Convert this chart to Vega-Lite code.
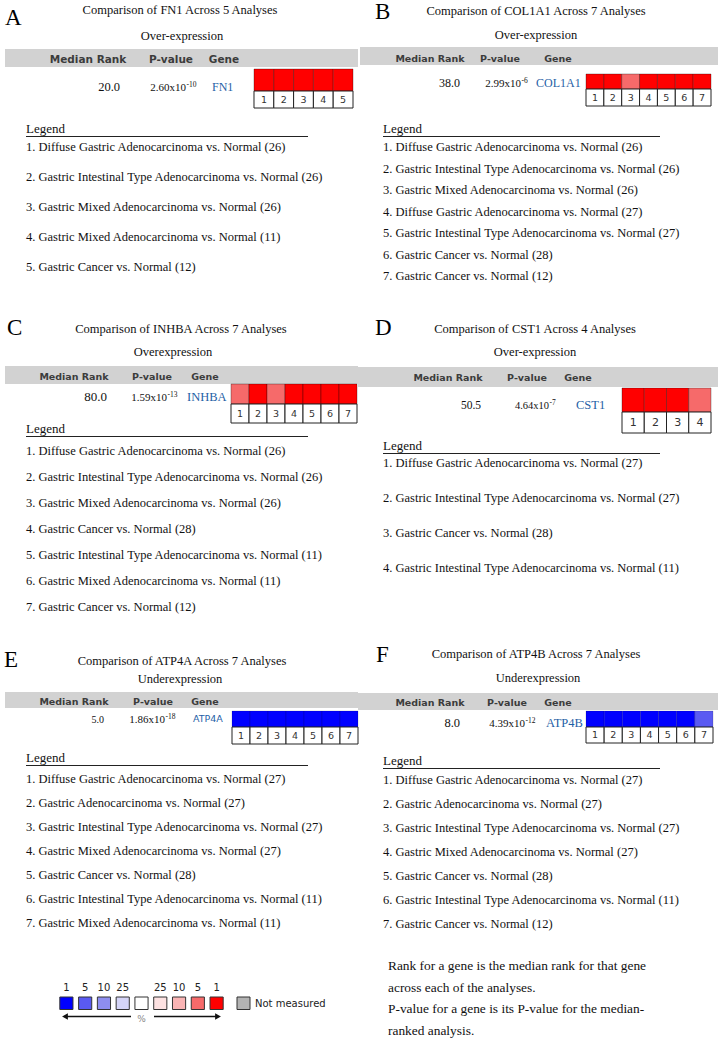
{
"$schema":"https://vega.github.io/schema/vega-lite/v6.json",
"padding":0,
"background":"#ffffff",
"spacing":0,
"config":{
 "view":{"stroke":null},
 "axis":{"disable":true},
 "legend":{"disable":true},
 "concat":{"spacing":0},
 "style":{
  "letter":{"font":"Liberation Serif","fontSize":23,"color":"#000000","align":"left","baseline":"alphabetic"},
  "ttl":{"font":"Liberation Serif","fontSize":12.5,"color":"#111111","align":"center","baseline":"alphabetic"},
  "hdr":{"font":"DejaVu Sans","fontSize":9.5,"fontWeight":"bold","color":"#3c3c3c","align":"center","baseline":"alphabetic"},
  "val":{"font":"Liberation Serif","fontSize":12.5,"color":"#111111","baseline":"alphabetic"},
  "pb":{"font":"Liberation Serif","fontSize":11,"color":"#111111","align":"right","baseline":"alphabetic"},
  "pe":{"font":"Liberation Serif","fontSize":7.5,"color":"#111111","align":"left","baseline":"alphabetic"},
  "gene":{"font":"Liberation Serif","fontSize":12.5,"color":"#1f5fa6","align":"left","baseline":"alphabetic"},
  "num":{"font":"DejaVu Sans","fontSize":9.5,"color":"#333333","align":"center","baseline":"middle"},
  "item":{"font":"Liberation Serif","fontSize":12.5,"color":"#111111","align":"left","baseline":"middle"}
 }
},
"datasets":{
 "panels":[
  {"panel":"A","title":"Comparison of FN1 Across 5 Analyses","direction":"Over-expression","rank":"20.0","pbase":"2.60x10","pexp":"-10","gene":"FN1"},
  {"panel":"B","title":"Comparison of COL1A1 Across 7 Analyses","direction":"Over-expression","rank":"38.0","pbase":"2.99x10","pexp":"-6","gene":"COL1A1"},
  {"panel":"C","title":"Comparison of INHBA Across 7 Analyses","direction":"Overexpression","rank":"80.0","pbase":"1.59x10","pexp":"-13","gene":"INHBA"},
  {"panel":"D","title":"Comparison of CST1 Across 4 Analyses","direction":"Over-expression","rank":"50.5","pbase":"4.64x10","pexp":"-7","gene":"CST1"},
  {"panel":"E","title":"Comparison of ATP4A Across 7 Analyses","direction":"Underexpression","rank":"5.0","pbase":"1.86x10","pexp":"-18","gene":"ATP4A"},
  {"panel":"F","title":"Comparison of ATP4B Across 7 Analyses","direction":"Underexpression","rank":"8.0","pbase":"4.39x10","pexp":"-12","gene":"ATP4B"}
 ],
 "cells":[
  {"panel":"A","analysis":1,"level":"over 1%"},{"panel":"A","analysis":2,"level":"over 1%"},{"panel":"A","analysis":3,"level":"over 1%"},{"panel":"A","analysis":4,"level":"over 1%"},{"panel":"A","analysis":5,"level":"over 1%"},
  {"panel":"B","analysis":1,"level":"over 1%"},{"panel":"B","analysis":2,"level":"over 1%"},{"panel":"B","analysis":3,"level":"over 5%"},{"panel":"B","analysis":4,"level":"over 1%"},{"panel":"B","analysis":5,"level":"over 1%"},{"panel":"B","analysis":6,"level":"over 1%"},{"panel":"B","analysis":7,"level":"over 1%"},
  {"panel":"C","analysis":1,"level":"over 5%"},{"panel":"C","analysis":2,"level":"over 1%"},{"panel":"C","analysis":3,"level":"over 5%"},{"panel":"C","analysis":4,"level":"over 1%"},{"panel":"C","analysis":5,"level":"over 1%"},{"panel":"C","analysis":6,"level":"over 1%"},{"panel":"C","analysis":7,"level":"over 1%"},
  {"panel":"D","analysis":1,"level":"over 1%"},{"panel":"D","analysis":2,"level":"over 1%"},{"panel":"D","analysis":3,"level":"over 1%"},{"panel":"D","analysis":4,"level":"over 5%"},
  {"panel":"E","analysis":1,"level":"under 1%"},{"panel":"E","analysis":2,"level":"under 1%"},{"panel":"E","analysis":3,"level":"under 1%"},{"panel":"E","analysis":4,"level":"under 1%"},{"panel":"E","analysis":5,"level":"under 1%"},{"panel":"E","analysis":6,"level":"under 1%"},{"panel":"E","analysis":7,"level":"under 1%"},
  {"panel":"F","analysis":1,"level":"under 1%"},{"panel":"F","analysis":2,"level":"under 1%"},{"panel":"F","analysis":3,"level":"under 1%"},{"panel":"F","analysis":4,"level":"under 1%"},{"panel":"F","analysis":5,"level":"under 1%"},{"panel":"F","analysis":6,"level":"under 1%"},{"panel":"F","analysis":7,"level":"under 5%"}
 ],
 "items":[
  {"panel":"A","n":1,"label":"1. Diffuse Gastric Adenocarcinoma vs. Normal (26)"},
  {"panel":"A","n":2,"label":"2. Gastric Intestinal Type Adenocarcinoma vs. Normal (26)"},
  {"panel":"A","n":3,"label":"3. Gastric Mixed Adenocarcinoma vs. Normal (26)"},
  {"panel":"A","n":4,"label":"4. Gastric Mixed Adenocarcinoma vs. Normal (11)"},
  {"panel":"A","n":5,"label":"5. Gastric Cancer vs. Normal (12)"},
  {"panel":"B","n":1,"label":"1. Diffuse Gastric Adenocarcinoma vs. Normal (26)"},
  {"panel":"B","n":2,"label":"2. Gastric Intestinal Type Adenocarcinoma vs. Normal (26)"},
  {"panel":"B","n":3,"label":"3. Gastric Mixed Adenocarcinoma vs. Normal (26)"},
  {"panel":"B","n":4,"label":"4. Diffuse Gastric Adenocarcinoma vs. Normal (27)"},
  {"panel":"B","n":5,"label":"5. Gastric Intestinal Type Adenocarcinoma vs. Normal (27)"},
  {"panel":"B","n":6,"label":"6. Gastric Cancer vs. Normal (28)"},
  {"panel":"B","n":7,"label":"7. Gastric Cancer vs. Normal (12)"},
  {"panel":"C","n":1,"label":"1. Diffuse Gastric Adenocarcinoma vs. Normal (26)"},
  {"panel":"C","n":2,"label":"2. Gastric Intestinal Type Adenocarcinoma vs. Normal (26)"},
  {"panel":"C","n":3,"label":"3. Gastric Mixed Adenocarcinoma vs. Normal (26)"},
  {"panel":"C","n":4,"label":"4. Gastric Cancer vs. Normal (28)"},
  {"panel":"C","n":5,"label":"5. Gastric Intestinal Type Adenocarcinoma vs. Normal (11)"},
  {"panel":"C","n":6,"label":"6. Gastric Mixed Adenocarcinoma vs. Normal (11)"},
  {"panel":"C","n":7,"label":"7. Gastric Cancer vs. Normal (12)"},
  {"panel":"D","n":1,"label":"1. Diffuse Gastric Adenocarcinoma vs. Normal (27)"},
  {"panel":"D","n":2,"label":"2. Gastric Intestinal Type Adenocarcinoma vs. Normal (27)"},
  {"panel":"D","n":3,"label":"3. Gastric Cancer vs. Normal (28)"},
  {"panel":"D","n":4,"label":"4. Gastric Intestinal Type Adenocarcinoma vs. Normal (11)"},
  {"panel":"E","n":1,"label":"1. Diffuse Gastric Adenocarcinoma vs. Normal (27)"},
  {"panel":"E","n":2,"label":"2. Gastric Adenocarcinoma vs. Normal (27)"},
  {"panel":"E","n":3,"label":"3. Gastric Intestinal Type Adenocarcinoma vs. Normal (27)"},
  {"panel":"E","n":4,"label":"4. Gastric Mixed Adenocarcinoma vs. Normal (27)"},
  {"panel":"E","n":5,"label":"5. Gastric Cancer vs. Normal (28)"},
  {"panel":"E","n":6,"label":"6. Gastric Intestinal Type Adenocarcinoma vs. Normal (11)"},
  {"panel":"E","n":7,"label":"7. Gastric Mixed Adenocarcinoma vs. Normal (11)"},
  {"panel":"F","n":1,"label":"1. Diffuse Gastric Adenocarcinoma vs. Normal (27)"},
  {"panel":"F","n":2,"label":"2. Gastric Adenocarcinoma vs. Normal (27)"},
  {"panel":"F","n":3,"label":"3. Gastric Intestinal Type Adenocarcinoma vs. Normal (27)"},
  {"panel":"F","n":4,"label":"4. Gastric Mixed Adenocarcinoma vs. Normal (27)"},
  {"panel":"F","n":5,"label":"5. Gastric Cancer vs. Normal (28)"},
  {"panel":"F","n":6,"label":"6. Gastric Intestinal Type Adenocarcinoma vs. Normal (11)"},
  {"panel":"F","n":7,"label":"7. Gastric Cancer vs. Normal (12)"}
 ],
 "key":[
  {"level":"under 1%","tick":"1"},{"level":"under 5%","tick":"5"},{"level":"under 10%","tick":"10"},{"level":"under 25%","tick":"25"},{"level":"neutral","tick":""},{"level":"over 25%","tick":"25"},{"level":"over 10%","tick":"10"},{"level":"over 5%","tick":"5"},{"level":"over 1%","tick":"1"},{"level":"not measured","tick":"Not measured"}
 ],
 "notes":[
  {"line":1,"text":"Rank for a gene is the median rank for that gene"},
  {"line":2,"text":"across each of the analyses."},
  {"line":3,"text":"P-value for a gene is its P-value for the median-"},
  {"line":4,"text":"ranked analysis."}
 ]
},
"vconcat":[
 {"hconcat":[
  {"width":358,"height":310,"data":{"name":"panels"},"transform":[{"filter":"datum.panel === 'A'"}],"resolve":{"scale":{"x":"independent","y":"independent"}},"layer":[
   {"mark":{"type":"rect","color":"#d2d2d2"},"encoding":{"x":{"field":"panel","type":"nominal","scale":{"range":[5,358],"padding":0}},"y":{"field":"panel","type":"nominal","scale":{"range":[49,67],"padding":0}}}},
   {"mark":{"type":"text","style":"letter"},"encoding":{"text":{"field":"panel"},"x":{"field":"panel","type":"nominal","scale":{"range":[5,5]}},"y":{"field":"panel","type":"nominal","scale":{"range":[25,25]}}}},
   {"mark":{"type":"text","style":"ttl"},"encoding":{"text":{"field":"title"},"x":{"field":"panel","type":"nominal","scale":{"range":[180,180]}},"y":{"field":"panel","type":"nominal","scale":{"range":[14,14]}}}},
   {"mark":{"type":"text","style":"ttl"},"encoding":{"text":{"field":"direction"},"x":{"field":"panel","type":"nominal","scale":{"range":[182,182]}},"y":{"field":"panel","type":"nominal","scale":{"range":[40,40]}}}},
   {"mark":{"type":"text","style":"hdr","fontSize":10.5},"encoding":{"text":{"value":"Median Rank"},"x":{"field":"panel","type":"nominal","scale":{"range":[88,88]}},"y":{"field":"panel","type":"nominal","scale":{"range":[63,63]}}}},
   {"mark":{"type":"text","style":"hdr","fontSize":10.5},"encoding":{"text":{"value":"P-value"},"x":{"field":"panel","type":"nominal","scale":{"range":[171,171]}},"y":{"field":"panel","type":"nominal","scale":{"range":[63,63]}}}},
   {"mark":{"type":"text","style":"hdr","fontSize":10.5},"encoding":{"text":{"value":"Gene"},"x":{"field":"panel","type":"nominal","scale":{"range":[224,224]}},"y":{"field":"panel","type":"nominal","scale":{"range":[63,63]}}}},
   {"mark":{"type":"text","style":"val","align":"right"},"encoding":{"text":{"field":"rank"},"x":{"field":"panel","type":"nominal","scale":{"range":[120,120]}},"y":{"field":"panel","type":"nominal","scale":{"range":[91,91]}}}},
   {"mark":{"type":"text","style":"pb"},"encoding":{"text":{"field":"pbase"},"x":{"field":"panel","type":"nominal","scale":{"range":[186,186]}},"y":{"field":"panel","type":"nominal","scale":{"range":[91,91]}}}},
   {"mark":{"type":"text","style":"pe"},"encoding":{"text":{"field":"pexp"},"x":{"field":"panel","type":"nominal","scale":{"range":[186.5,186.5]}},"y":{"field":"panel","type":"nominal","scale":{"range":[86.5,86.5]}}}},
   {"mark":{"type":"text","style":"gene","fontSize":12},"encoding":{"text":{"field":"gene"},"x":{"field":"panel","type":"nominal","scale":{"range":[212,212]}},"y":{"field":"panel","type":"nominal","scale":{"range":[91,91]}}}},
   {"data":{"name":"cells"},"transform":[{"filter":"datum.panel === 'A'"}],"mark":{"type":"rect","stroke":"#000000","strokeOpacity":0.3,"strokeWidth":1},"encoding":{"x":{"field":"analysis","type":"ordinal","scale":{"range":[254,353],"padding":0}},"y":{"field":"panel","type":"nominal","scale":{"range":[69,91],"padding":0}},"color":{"field":"level","type":"nominal","scale":{"domain":["under 1%","under 5%","under 10%","under 25%","neutral","over 25%","over 10%","over 5%","over 1%","not measured"],"range":["#0000ff","#5a5af2","#8e8ef0","#d4d4f7","#ffffff","#fde2e2","#fab4b4","#f66a6a","#ff0000","#b3b3b3"]}}}},
   {"data":{"name":"cells"},"transform":[{"filter":"datum.panel === 'A'"}],"mark":{"type":"rect","fill":"#ffffff","stroke":"#222222","strokeWidth":1},"encoding":{"x":{"field":"analysis","type":"ordinal","scale":{"range":[254,353],"padding":0}},"y":{"field":"panel","type":"nominal","scale":{"range":[91,108],"padding":0}}}},
   {"data":{"name":"cells"},"transform":[{"filter":"datum.panel === 'A'"}],"mark":{"type":"text","style":"num"},"encoding":{"text":{"field":"analysis"},"x":{"field":"analysis","type":"ordinal","scale":{"range":[254,353]}},"y":{"field":"panel","type":"nominal","scale":{"range":[100,100]}}}},
   {"mark":{"type":"text","style":"item","baseline":"alphabetic","fontSize":13},"encoding":{"text":{"value":"Legend"},"x":{"field":"panel","type":"nominal","scale":{"range":[26,26]}},"y":{"field":"panel","type":"nominal","scale":{"range":[133,133]}}}},
   {"mark":{"type":"rect","color":"#222222"},"encoding":{"x":{"field":"panel","type":"nominal","scale":{"range":[26,308],"padding":0}},"y":{"field":"panel","type":"nominal","scale":{"range":[136,137],"padding":0}}}},
   {"data":{"name":"items"},"transform":[{"filter":"datum.panel === 'A'"}],"mark":{"type":"text","style":"item"},"encoding":{"text":{"field":"label"},"x":{"field":"panel","type":"nominal","scale":{"range":[26,26]}},"y":{"field":"n","type":"ordinal","scale":{"range":[132,282]}}}}
  ]},
  {"width":360,"height":310,"data":{"name":"panels"},"transform":[{"filter":"datum.panel === 'B'"}],"resolve":{"scale":{"x":"independent","y":"independent"}},"layer":[
   {"mark":{"type":"rect","color":"#d2d2d2"},"encoding":{"x":{"field":"panel","type":"nominal","scale":{"range":[2,360],"padding":0}},"y":{"field":"panel","type":"nominal","scale":{"range":[47,65],"padding":0}}}},
   {"mark":{"type":"text","style":"letter"},"encoding":{"text":{"field":"panel"},"x":{"field":"panel","type":"nominal","scale":{"range":[17,17]}},"y":{"field":"panel","type":"nominal","scale":{"range":[19,19]}}}},
   {"mark":{"type":"text","style":"ttl"},"encoding":{"text":{"field":"title"},"x":{"field":"panel","type":"nominal","scale":{"range":[178,178]}},"y":{"field":"panel","type":"nominal","scale":{"range":[15,15]}}}},
   {"mark":{"type":"text","style":"ttl"},"encoding":{"text":{"field":"direction"},"x":{"field":"panel","type":"nominal","scale":{"range":[178,178]}},"y":{"field":"panel","type":"nominal","scale":{"range":[39,39]}}}},
   {"mark":{"type":"text","style":"hdr"},"encoding":{"text":{"value":"Median Rank"},"x":{"field":"panel","type":"nominal","scale":{"range":[72,72]}},"y":{"field":"panel","type":"nominal","scale":{"range":[62,62]}}}},
   {"mark":{"type":"text","style":"hdr"},"encoding":{"text":{"value":"P-value"},"x":{"field":"panel","type":"nominal","scale":{"range":[142,142]}},"y":{"field":"panel","type":"nominal","scale":{"range":[62,62]}}}},
   {"mark":{"type":"text","style":"hdr"},"encoding":{"text":{"value":"Gene"},"x":{"field":"panel","type":"nominal","scale":{"range":[200,200]}},"y":{"field":"panel","type":"nominal","scale":{"range":[62,62]}}}},
   {"mark":{"type":"text","style":"val","align":"right","fontSize":12},"encoding":{"text":{"field":"rank"},"x":{"field":"panel","type":"nominal","scale":{"range":[102,102]}},"y":{"field":"panel","type":"nominal","scale":{"range":[87,87]}}}},
   {"mark":{"type":"text","style":"pb"},"encoding":{"text":{"field":"pbase"},"x":{"field":"panel","type":"nominal","scale":{"range":[163,163]}},"y":{"field":"panel","type":"nominal","scale":{"range":[87,87]}}}},
   {"mark":{"type":"text","style":"pe"},"encoding":{"text":{"field":"pexp"},"x":{"field":"panel","type":"nominal","scale":{"range":[163.5,163.5]}},"y":{"field":"panel","type":"nominal","scale":{"range":[82.5,82.5]}}}},
   {"mark":{"type":"text","style":"gene","fontSize":12},"encoding":{"text":{"field":"gene"},"x":{"field":"panel","type":"nominal","scale":{"range":[178,178]}},"y":{"field":"panel","type":"nominal","scale":{"range":[87,87]}}}},
   {"data":{"name":"cells"},"transform":[{"filter":"datum.panel === 'B'"}],"mark":{"type":"rect","stroke":"#000000","strokeOpacity":0.3,"strokeWidth":1},"encoding":{"x":{"field":"analysis","type":"ordinal","scale":{"range":[228,353],"padding":0}},"y":{"field":"panel","type":"nominal","scale":{"range":[74,89],"padding":0}},"color":{"field":"level","type":"nominal","scale":{"domain":["under 1%","under 5%","under 10%","under 25%","neutral","over 25%","over 10%","over 5%","over 1%","not measured"],"range":["#0000ff","#5a5af2","#8e8ef0","#d4d4f7","#ffffff","#fde2e2","#fab4b4","#f66a6a","#ff0000","#b3b3b3"]}}}},
   {"data":{"name":"cells"},"transform":[{"filter":"datum.panel === 'B'"}],"mark":{"type":"rect","fill":"#ffffff","stroke":"#222222","strokeWidth":1},"encoding":{"x":{"field":"analysis","type":"ordinal","scale":{"range":[228,353],"padding":0}},"y":{"field":"panel","type":"nominal","scale":{"range":[89,106],"padding":0}}}},
   {"data":{"name":"cells"},"transform":[{"filter":"datum.panel === 'B'"}],"mark":{"type":"text","style":"num"},"encoding":{"text":{"field":"analysis"},"x":{"field":"analysis","type":"ordinal","scale":{"range":[228,353]}},"y":{"field":"panel","type":"nominal","scale":{"range":[98,98]}}}},
   {"mark":{"type":"text","style":"item","baseline":"alphabetic","fontSize":13},"encoding":{"text":{"value":"Legend"},"x":{"field":"panel","type":"nominal","scale":{"range":[25,25]}},"y":{"field":"panel","type":"nominal","scale":{"range":[133,133]}}}},
   {"mark":{"type":"rect","color":"#222222"},"encoding":{"x":{"field":"panel","type":"nominal","scale":{"range":[25,302],"padding":0}},"y":{"field":"panel","type":"nominal","scale":{"range":[136,137],"padding":0}}}},
   {"data":{"name":"items"},"transform":[{"filter":"datum.panel === 'B'"}],"mark":{"type":"text","style":"item"},"encoding":{"text":{"field":"label"},"x":{"field":"panel","type":"nominal","scale":{"range":[25,25]}},"y":{"field":"n","type":"ordinal","scale":{"range":[136.25,286.75]}}}}
  ]}
 ],"spacing":0,"bounds":"flush"},
 {"hconcat":[
  {"width":358,"height":320,"data":{"name":"panels"},"transform":[{"filter":"datum.panel === 'C'"}],"resolve":{"scale":{"x":"independent","y":"independent"}},"layer":[
   {"mark":{"type":"rect","color":"#d2d2d2"},"encoding":{"x":{"field":"panel","type":"nominal","scale":{"range":[5,358],"padding":0}},"y":{"field":"panel","type":"nominal","scale":{"range":[56,74],"padding":0}}}},
   {"mark":{"type":"text","style":"letter"},"encoding":{"text":{"field":"panel"},"x":{"field":"panel","type":"nominal","scale":{"range":[7,7]}},"y":{"field":"panel","type":"nominal","scale":{"range":[25,25]}}}},
   {"mark":{"type":"text","style":"ttl"},"encoding":{"text":{"field":"title"},"x":{"field":"panel","type":"nominal","scale":{"range":[181,181]}},"y":{"field":"panel","type":"nominal","scale":{"range":[23,23]}}}},
   {"mark":{"type":"text","style":"ttl"},"encoding":{"text":{"field":"direction"},"x":{"field":"panel","type":"nominal","scale":{"range":[173,173]}},"y":{"field":"panel","type":"nominal","scale":{"range":[46,46]}}}},
   {"mark":{"type":"text","style":"hdr"},"encoding":{"text":{"value":"Median Rank"},"x":{"field":"panel","type":"nominal","scale":{"range":[74,74]}},"y":{"field":"panel","type":"nominal","scale":{"range":[70,70]}}}},
   {"mark":{"type":"text","style":"hdr"},"encoding":{"text":{"value":"P-value"},"x":{"field":"panel","type":"nominal","scale":{"range":[152,152]}},"y":{"field":"panel","type":"nominal","scale":{"range":[70,70]}}}},
   {"mark":{"type":"text","style":"hdr"},"encoding":{"text":{"value":"Gene"},"x":{"field":"panel","type":"nominal","scale":{"range":[205,205]}},"y":{"field":"panel","type":"nominal","scale":{"range":[70,70]}}}},
   {"mark":{"type":"text","style":"val","align":"right","fontSize":13},"encoding":{"text":{"field":"rank"},"x":{"field":"panel","type":"nominal","scale":{"range":[107,107]}},"y":{"field":"panel","type":"nominal","scale":{"range":[91,91]}}}},
   {"mark":{"type":"text","style":"pb"},"encoding":{"text":{"field":"pbase"},"x":{"field":"panel","type":"nominal","scale":{"range":[167,167]}},"y":{"field":"panel","type":"nominal","scale":{"range":[91,91]}}}},
   {"mark":{"type":"text","style":"pe"},"encoding":{"text":{"field":"pexp"},"x":{"field":"panel","type":"nominal","scale":{"range":[167.5,167.5]}},"y":{"field":"panel","type":"nominal","scale":{"range":[86.5,86.5]}}}},
   {"mark":{"type":"text","style":"gene","fontSize":12.5},"encoding":{"text":{"field":"gene"},"x":{"field":"panel","type":"nominal","scale":{"range":[187,187]}},"y":{"field":"panel","type":"nominal","scale":{"range":[91,91]}}}},
   {"data":{"name":"cells"},"transform":[{"filter":"datum.panel === 'C'"}],"mark":{"type":"rect","stroke":"#000000","strokeOpacity":0.3,"strokeWidth":1},"encoding":{"x":{"field":"analysis","type":"ordinal","scale":{"range":[231,357],"padding":0}},"y":{"field":"panel","type":"nominal","scale":{"range":[74,94],"padding":0}},"color":{"field":"level","type":"nominal","scale":{"domain":["under 1%","under 5%","under 10%","under 25%","neutral","over 25%","over 10%","over 5%","over 1%","not measured"],"range":["#0000ff","#5a5af2","#8e8ef0","#d4d4f7","#ffffff","#fde2e2","#fab4b4","#f66a6a","#ff0000","#b3b3b3"]}}}},
   {"data":{"name":"cells"},"transform":[{"filter":"datum.panel === 'C'"}],"mark":{"type":"rect","fill":"#ffffff","stroke":"#222222","strokeWidth":1},"encoding":{"x":{"field":"analysis","type":"ordinal","scale":{"range":[231,357],"padding":0}},"y":{"field":"panel","type":"nominal","scale":{"range":[94,113],"padding":0}}}},
   {"data":{"name":"cells"},"transform":[{"filter":"datum.panel === 'C'"}],"mark":{"type":"text","style":"num"},"encoding":{"text":{"field":"analysis"},"x":{"field":"analysis","type":"ordinal","scale":{"range":[231,357]}},"y":{"field":"panel","type":"nominal","scale":{"range":[104,104]}}}},
   {"mark":{"type":"text","style":"item","baseline":"alphabetic","fontSize":13},"encoding":{"text":{"value":"Legend"},"x":{"field":"panel","type":"nominal","scale":{"range":[26,26]}},"y":{"field":"panel","type":"nominal","scale":{"range":[123,123]}}}},
   {"mark":{"type":"rect","color":"#222222"},"encoding":{"x":{"field":"panel","type":"nominal","scale":{"range":[26,308],"padding":0}},"y":{"field":"panel","type":"nominal","scale":{"range":[126,127],"padding":0}}}},
   {"data":{"name":"items"},"transform":[{"filter":"datum.panel === 'C'"}],"mark":{"type":"text","style":"item"},"encoding":{"text":{"field":"label"},"x":{"field":"panel","type":"nominal","scale":{"range":[26,26]}},"y":{"field":"n","type":"ordinal","scale":{"range":[128,310]}}}}
  ]},
  {"width":360,"height":320,"data":{"name":"panels"},"transform":[{"filter":"datum.panel === 'D'"}],"resolve":{"scale":{"x":"independent","y":"independent"}},"layer":[
   {"mark":{"type":"rect","color":"#d2d2d2"},"encoding":{"x":{"field":"panel","type":"nominal","scale":{"range":[0,360],"padding":0}},"y":{"field":"panel","type":"nominal","scale":{"range":[57,77],"padding":0}}}},
   {"mark":{"type":"text","style":"letter"},"encoding":{"text":{"field":"panel"},"x":{"field":"panel","type":"nominal","scale":{"range":[17,17]}},"y":{"field":"panel","type":"nominal","scale":{"range":[25,25]}}}},
   {"mark":{"type":"text","style":"ttl"},"encoding":{"text":{"field":"title"},"x":{"field":"panel","type":"nominal","scale":{"range":[177,177]}},"y":{"field":"panel","type":"nominal","scale":{"range":[23,23]}}}},
   {"mark":{"type":"text","style":"ttl"},"encoding":{"text":{"field":"direction"},"x":{"field":"panel","type":"nominal","scale":{"range":[177,177]}},"y":{"field":"panel","type":"nominal","scale":{"range":[46,46]}}}},
   {"mark":{"type":"text","style":"hdr"},"encoding":{"text":{"value":"Median Rank"},"x":{"field":"panel","type":"nominal","scale":{"range":[90,90]}},"y":{"field":"panel","type":"nominal","scale":{"range":[71,71]}}}},
   {"mark":{"type":"text","style":"hdr"},"encoding":{"text":{"value":"P-value"},"x":{"field":"panel","type":"nominal","scale":{"range":[169,169]}},"y":{"field":"panel","type":"nominal","scale":{"range":[71,71]}}}},
   {"mark":{"type":"text","style":"hdr"},"encoding":{"text":{"value":"Gene"},"x":{"field":"panel","type":"nominal","scale":{"range":[220,220]}},"y":{"field":"panel","type":"nominal","scale":{"range":[71,71]}}}},
   {"mark":{"type":"text","style":"val","align":"right","fontSize":11.5},"encoding":{"text":{"field":"rank"},"x":{"field":"panel","type":"nominal","scale":{"range":[123,123]}},"y":{"field":"panel","type":"nominal","scale":{"range":[99,99]}}}},
   {"mark":{"type":"text","style":"pb","fontSize":10.5},"encoding":{"text":{"field":"pbase"},"x":{"field":"panel","type":"nominal","scale":{"range":[191,191]}},"y":{"field":"panel","type":"nominal","scale":{"range":[99,99]}}}},
   {"mark":{"type":"text","style":"pe"},"encoding":{"text":{"field":"pexp"},"x":{"field":"panel","type":"nominal","scale":{"range":[191.5,191.5]}},"y":{"field":"panel","type":"nominal","scale":{"range":[94.5,94.5]}}}},
   {"mark":{"type":"text","style":"gene","fontSize":12.5},"encoding":{"text":{"field":"gene"},"x":{"field":"panel","type":"nominal","scale":{"range":[218,218]}},"y":{"field":"panel","type":"nominal","scale":{"range":[99,99]}}}},
   {"data":{"name":"cells"},"transform":[{"filter":"datum.panel === 'D'"}],"mark":{"type":"rect","stroke":"#000000","strokeOpacity":0.3,"strokeWidth":1},"encoding":{"x":{"field":"analysis","type":"ordinal","scale":{"range":[264,353],"padding":0}},"y":{"field":"panel","type":"nominal","scale":{"range":[78,102],"padding":0}},"color":{"field":"level","type":"nominal","scale":{"domain":["under 1%","under 5%","under 10%","under 25%","neutral","over 25%","over 10%","over 5%","over 1%","not measured"],"range":["#0000ff","#5a5af2","#8e8ef0","#d4d4f7","#ffffff","#fde2e2","#fab4b4","#f66a6a","#ff0000","#b3b3b3"]}}}},
   {"data":{"name":"cells"},"transform":[{"filter":"datum.panel === 'D'"}],"mark":{"type":"rect","fill":"#ffffff","stroke":"#222222","strokeWidth":1},"encoding":{"x":{"field":"analysis","type":"ordinal","scale":{"range":[264,353],"padding":0}},"y":{"field":"panel","type":"nominal","scale":{"range":[102,123],"padding":0}}}},
   {"data":{"name":"cells"},"transform":[{"filter":"datum.panel === 'D'"}],"mark":{"type":"text","style":"num","fontSize":11},"encoding":{"text":{"field":"analysis"},"x":{"field":"analysis","type":"ordinal","scale":{"range":[264,353]}},"y":{"field":"panel","type":"nominal","scale":{"range":[113,113]}}}},
   {"mark":{"type":"text","style":"item","baseline":"alphabetic","fontSize":13},"encoding":{"text":{"value":"Legend"},"x":{"field":"panel","type":"nominal","scale":{"range":[25,25]}},"y":{"field":"panel","type":"nominal","scale":{"range":[140,140]}}}},
   {"mark":{"type":"rect","color":"#222222"},"encoding":{"x":{"field":"panel","type":"nominal","scale":{"range":[25,302],"padding":0}},"y":{"field":"panel","type":"nominal","scale":{"range":[143,144],"padding":0}}}},
   {"data":{"name":"items"},"transform":[{"filter":"datum.panel === 'D'"}],"mark":{"type":"text","style":"item"},"encoding":{"text":{"field":"label"},"x":{"field":"panel","type":"nominal","scale":{"range":[25,25]}},"y":{"field":"n","type":"ordinal","scale":{"range":[135.5,275.5]}}}}
  ]}
 ],"spacing":0,"bounds":"flush"},
 {"hconcat":[
  {"width":358,"height":320,"data":{"name":"panels"},"transform":[{"filter":"datum.panel === 'E'"}],"resolve":{"scale":{"x":"independent","y":"independent"}},"layer":[
   {"mark":{"type":"rect","color":"#d2d2d2"},"encoding":{"x":{"field":"panel","type":"nominal","scale":{"range":[5,358],"padding":0}},"y":{"field":"panel","type":"nominal","scale":{"range":[62,78],"padding":0}}}},
   {"mark":{"type":"text","style":"letter"},"encoding":{"text":{"field":"panel"},"x":{"field":"panel","type":"nominal","scale":{"range":[4,4]}},"y":{"field":"panel","type":"nominal","scale":{"range":[37,37]}}}},
   {"mark":{"type":"text","style":"ttl"},"encoding":{"text":{"field":"title"},"x":{"field":"panel","type":"nominal","scale":{"range":[182,182]}},"y":{"field":"panel","type":"nominal","scale":{"range":[35,35]}}}},
   {"mark":{"type":"text","style":"ttl"},"encoding":{"text":{"field":"direction"},"x":{"field":"panel","type":"nominal","scale":{"range":[180,180]}},"y":{"field":"panel","type":"nominal","scale":{"range":[53,53]}}}},
   {"mark":{"type":"text","style":"hdr"},"encoding":{"text":{"value":"Median Rank"},"x":{"field":"panel","type":"nominal","scale":{"range":[74,74]}},"y":{"field":"panel","type":"nominal","scale":{"range":[75,75]}}}},
   {"mark":{"type":"text","style":"hdr"},"encoding":{"text":{"value":"P-value"},"x":{"field":"panel","type":"nominal","scale":{"range":[153,153]}},"y":{"field":"panel","type":"nominal","scale":{"range":[75,75]}}}},
   {"mark":{"type":"text","style":"hdr"},"encoding":{"text":{"value":"Gene"},"x":{"field":"panel","type":"nominal","scale":{"range":[205,205]}},"y":{"field":"panel","type":"nominal","scale":{"range":[75,75]}}}},
   {"mark":{"type":"text","style":"val","align":"right","fontSize":10},"encoding":{"text":{"field":"rank"},"x":{"field":"panel","type":"nominal","scale":{"range":[104,104]}},"y":{"field":"panel","type":"nominal","scale":{"range":[93,93]}}}},
   {"mark":{"type":"text","style":"pb"},"encoding":{"text":{"field":"pbase"},"x":{"field":"panel","type":"nominal","scale":{"range":[165,165]}},"y":{"field":"panel","type":"nominal","scale":{"range":[93,93]}}}},
   {"mark":{"type":"text","style":"pe"},"encoding":{"text":{"field":"pexp"},"x":{"field":"panel","type":"nominal","scale":{"range":[165.5,165.5]}},"y":{"field":"panel","type":"nominal","scale":{"range":[88.5,88.5]}}}},
   {"mark":{"type":"text","style":"gene","font":"DejaVu Sans","fontSize":9.5},"encoding":{"text":{"field":"gene"},"x":{"field":"panel","type":"nominal","scale":{"range":[193,193]}},"y":{"field":"panel","type":"nominal","scale":{"range":[92,92]}}}},
   {"data":{"name":"cells"},"transform":[{"filter":"datum.panel === 'E'"}],"mark":{"type":"rect","stroke":"#000000","strokeOpacity":0.15,"strokeWidth":1},"encoding":{"x":{"field":"analysis","type":"ordinal","scale":{"range":[232,358],"padding":0}},"y":{"field":"panel","type":"nominal","scale":{"range":[81,97],"padding":0}},"color":{"field":"level","type":"nominal","scale":{"domain":["under 1%","under 5%","under 10%","under 25%","neutral","over 25%","over 10%","over 5%","over 1%","not measured"],"range":["#0000ff","#5a5af2","#8e8ef0","#d4d4f7","#ffffff","#fde2e2","#fab4b4","#f66a6a","#ff0000","#b3b3b3"]}}}},
   {"data":{"name":"cells"},"transform":[{"filter":"datum.panel === 'E'"}],"mark":{"type":"rect","fill":"#ffffff","stroke":"#222222","strokeWidth":1},"encoding":{"x":{"field":"analysis","type":"ordinal","scale":{"range":[232,358],"padding":0}},"y":{"field":"panel","type":"nominal","scale":{"range":[97,114],"padding":0}}}},
   {"data":{"name":"cells"},"transform":[{"filter":"datum.panel === 'E'"}],"mark":{"type":"text","style":"num"},"encoding":{"text":{"field":"analysis"},"x":{"field":"analysis","type":"ordinal","scale":{"range":[232,358]}},"y":{"field":"panel","type":"nominal","scale":{"range":[106,106]}}}},
   {"mark":{"type":"text","style":"item","baseline":"alphabetic","fontSize":13},"encoding":{"text":{"value":"Legend"},"x":{"field":"panel","type":"nominal","scale":{"range":[26,26]}},"y":{"field":"panel","type":"nominal","scale":{"range":[132,132]}}}},
   {"mark":{"type":"rect","color":"#222222"},"encoding":{"x":{"field":"panel","type":"nominal","scale":{"range":[26,308],"padding":0}},"y":{"field":"panel","type":"nominal","scale":{"range":[135,136],"padding":0}}}},
   {"data":{"name":"items"},"transform":[{"filter":"datum.panel === 'E'"}],"mark":{"type":"text","style":"item"},"encoding":{"text":{"field":"label"},"x":{"field":"panel","type":"nominal","scale":{"range":[26,26]}},"y":{"field":"n","type":"ordinal","scale":{"range":[137,305]}}}}
  ]},
  {"width":360,"height":320,"data":{"name":"panels"},"transform":[{"filter":"datum.panel === 'F'"}],"resolve":{"scale":{"x":"independent","y":"independent"}},"layer":[
   {"mark":{"type":"rect","color":"#d2d2d2"},"encoding":{"x":{"field":"panel","type":"nominal","scale":{"range":[0,360],"padding":0}},"y":{"field":"panel","type":"nominal","scale":{"range":[63,80],"padding":0}}}},
   {"mark":{"type":"text","style":"letter"},"encoding":{"text":{"field":"panel"},"x":{"field":"panel","type":"nominal","scale":{"range":[18,18]}},"y":{"field":"panel","type":"nominal","scale":{"range":[32,32]}}}},
   {"mark":{"type":"text","style":"ttl"},"encoding":{"text":{"field":"title"},"x":{"field":"panel","type":"nominal","scale":{"range":[178,178]}},"y":{"field":"panel","type":"nominal","scale":{"range":[28,28]}}}},
   {"mark":{"type":"text","style":"ttl"},"encoding":{"text":{"field":"direction"},"x":{"field":"panel","type":"nominal","scale":{"range":[180,180]}},"y":{"field":"panel","type":"nominal","scale":{"range":[52,52]}}}},
   {"mark":{"type":"text","style":"hdr"},"encoding":{"text":{"value":"Median Rank"},"x":{"field":"panel","type":"nominal","scale":{"range":[72,72]}},"y":{"field":"panel","type":"nominal","scale":{"range":[76,76]}}}},
   {"mark":{"type":"text","style":"hdr"},"encoding":{"text":{"value":"P-value"},"x":{"field":"panel","type":"nominal","scale":{"range":[149,149]}},"y":{"field":"panel","type":"nominal","scale":{"range":[76,76]}}}},
   {"mark":{"type":"text","style":"hdr"},"encoding":{"text":{"value":"Gene"},"x":{"field":"panel","type":"nominal","scale":{"range":[200,200]}},"y":{"field":"panel","type":"nominal","scale":{"range":[76,76]}}}},
   {"mark":{"type":"text","style":"val","align":"right","fontSize":12.5},"encoding":{"text":{"field":"rank"},"x":{"field":"panel","type":"nominal","scale":{"range":[102,102]}},"y":{"field":"panel","type":"nominal","scale":{"range":[97,97]}}}},
   {"mark":{"type":"text","style":"pb"},"encoding":{"text":{"field":"pbase"},"x":{"field":"panel","type":"nominal","scale":{"range":[167,167]}},"y":{"field":"panel","type":"nominal","scale":{"range":[97,97]}}}},
   {"mark":{"type":"text","style":"pe"},"encoding":{"text":{"field":"pexp"},"x":{"field":"panel","type":"nominal","scale":{"range":[167.5,167.5]}},"y":{"field":"panel","type":"nominal","scale":{"range":[92.5,92.5]}}}},
   {"mark":{"type":"text","style":"gene","fontSize":12.5},"encoding":{"text":{"field":"gene"},"x":{"field":"panel","type":"nominal","scale":{"range":[188,188]}},"y":{"field":"panel","type":"nominal","scale":{"range":[97,97]}}}},
   {"data":{"name":"cells"},"transform":[{"filter":"datum.panel === 'F'"}],"mark":{"type":"rect","stroke":"#000000","strokeOpacity":0.15,"strokeWidth":1},"encoding":{"x":{"field":"analysis","type":"ordinal","scale":{"range":[228,355],"padding":0}},"y":{"field":"panel","type":"nominal","scale":{"range":[81,97],"padding":0}},"color":{"field":"level","type":"nominal","scale":{"domain":["under 1%","under 5%","under 10%","under 25%","neutral","over 25%","over 10%","over 5%","over 1%","not measured"],"range":["#0000ff","#5a5af2","#8e8ef0","#d4d4f7","#ffffff","#fde2e2","#fab4b4","#f66a6a","#ff0000","#b3b3b3"]}}}},
   {"data":{"name":"cells"},"transform":[{"filter":"datum.panel === 'F'"}],"mark":{"type":"rect","fill":"#ffffff","stroke":"#222222","strokeWidth":1},"encoding":{"x":{"field":"analysis","type":"ordinal","scale":{"range":[228,355],"padding":0}},"y":{"field":"panel","type":"nominal","scale":{"range":[97,113],"padding":0}}}},
   {"data":{"name":"cells"},"transform":[{"filter":"datum.panel === 'F'"}],"mark":{"type":"text","style":"num"},"encoding":{"text":{"field":"analysis"},"x":{"field":"analysis","type":"ordinal","scale":{"range":[228,355]}},"y":{"field":"panel","type":"nominal","scale":{"range":[105,105]}}}},
   {"mark":{"type":"text","style":"item","baseline":"alphabetic","fontSize":13},"encoding":{"text":{"value":"Legend"},"x":{"field":"panel","type":"nominal","scale":{"range":[25,25]}},"y":{"field":"panel","type":"nominal","scale":{"range":[135,135]}}}},
   {"mark":{"type":"rect","color":"#222222"},"encoding":{"x":{"field":"panel","type":"nominal","scale":{"range":[25,302],"padding":0}},"y":{"field":"panel","type":"nominal","scale":{"range":[138,139],"padding":0}}}},
   {"data":{"name":"items"},"transform":[{"filter":"datum.panel === 'F'"}],"mark":{"type":"text","style":"item"},"encoding":{"text":{"field":"label"},"x":{"field":"panel","type":"nominal","scale":{"range":[25,25]}},"y":{"field":"n","type":"ordinal","scale":{"range":[138,306]}}}}
  ]}
 ],"spacing":0,"bounds":"flush"},
 {"hconcat":[
  {"width":358,"height":99,"data":{"name":"key"},"resolve":{"scale":{"x":"independent","y":"independent"}},"layer":[
   {"transform":[{"filter":"datum.level !== 'not measured'"}],"mark":{"type":"text","font":"DejaVu Sans","fontSize":10,"color":"#222222","baseline":"middle","align":"center"},"encoding":{"text":{"field":"tick"},"x":{"field":"level","type":"nominal","sort":null,"scale":{"domain":["under 1%","under 5%","under 10%","under 25%","neutral","over 25%","over 10%","over 5%","over 1%"],"range":[57,226]}},"y":{"datum":"tick","type":"nominal","scale":{"range":[38,38]}}}},
   {"transform":[{"filter":"datum.level !== 'not measured'"}],"mark":{"type":"rect","stroke":"#333333","strokeWidth":1},"encoding":{"x":{"field":"level","type":"nominal","sort":null,"scale":{"type":"band","domain":["under 1%","under 5%","under 10%","under 25%","neutral","over 25%","over 10%","over 5%","over 1%"],"range":[57,226],"paddingInner":0.3,"paddingOuter":0.15}},"y":{"datum":"box","type":"nominal","scale":{"range":[47,59.5],"padding":0}},"color":{"field":"level","type":"nominal","scale":{"domain":["under 1%","under 5%","under 10%","under 25%","neutral","over 25%","over 10%","over 5%","over 1%","not measured"],"range":["#0000ff","#5a5af2","#8e8ef0","#d4d4f7","#ffffff","#fde2e2","#fab4b4","#f66a6a","#ff0000","#b3b3b3"]}}}},
   {"transform":[{"filter":"datum.level === 'not measured'"}],"mark":{"type":"rect","stroke":"#333333","strokeWidth":1},"encoding":{"x":{"field":"level","type":"nominal","scale":{"range":[237,250],"padding":0}},"y":{"datum":"box","type":"nominal","scale":{"range":[47,59.5],"padding":0}},"color":{"field":"level","type":"nominal","scale":{"domain":["under 1%","under 5%","under 10%","under 25%","neutral","over 25%","over 10%","over 5%","over 1%","not measured"],"range":["#0000ff","#5a5af2","#8e8ef0","#d4d4f7","#ffffff","#fde2e2","#fab4b4","#f66a6a","#ff0000","#b3b3b3"]}}}},
   {"transform":[{"filter":"datum.level === 'not measured'"}],"mark":{"type":"text","font":"DejaVu Sans","fontSize":10,"color":"#222222","align":"left","baseline":"middle"},"encoding":{"text":{"field":"tick"},"x":{"field":"level","type":"nominal","scale":{"range":[255,255]}},"y":{"datum":"box","type":"nominal","scale":{"range":[53.5,53.5]}}}},
   {"transform":[{"filter":"indexof(datum.level, 'under') === 0"}],"mark":{"type":"line","color":"#111111","strokeWidth":1.3},"encoding":{"x":{"field":"level","type":"nominal","scale":{"domain":["under 1%","under 5%","under 10%","under 25%"],"range":[66,131],"padding":0}},"y":{"datum":"arrow","type":"nominal","scale":{"range":[66.5,66.5]}}}},
   {"transform":[{"filter":"datum.level === 'under 1%'"}],"mark":{"type":"point","shape":"triangle-left","filled":true,"color":"#111111","size":45,"opacity":1},"encoding":{"x":{"field":"level","type":"nominal","scale":{"range":[65,65]}},"y":{"datum":"arrow","type":"nominal","scale":{"range":[66.5,66.5]}}}},
   {"transform":[{"filter":"indexof(datum.level, 'over') === 0"}],"mark":{"type":"line","color":"#111111","strokeWidth":1.3},"encoding":{"x":{"field":"level","type":"nominal","scale":{"domain":["over 25%","over 10%","over 5%","over 1%"],"range":[154,217],"padding":0}},"y":{"datum":"arrow","type":"nominal","scale":{"range":[66.5,66.5]}}}},
   {"transform":[{"filter":"datum.level === 'over 1%'"}],"mark":{"type":"point","shape":"triangle-right","filled":true,"color":"#111111","size":45,"opacity":1},"encoding":{"x":{"field":"level","type":"nominal","scale":{"range":[218,218]}},"y":{"datum":"arrow","type":"nominal","scale":{"range":[66.5,66.5]}}}},
   {"transform":[{"filter":"datum.level === 'neutral'"}],"mark":{"type":"text","text":"%","font":"DejaVu Sans","fontSize":9,"color":"#888888","align":"center","baseline":"middle"},"encoding":{"x":{"field":"level","type":"nominal","scale":{"range":[141.5,141.5]}},"y":{"datum":"pct","type":"nominal","scale":{"range":[69,69]}}}}
  ]},
  {"width":360,"height":99,"data":{"name":"notes"},"mark":{"type":"text","font":"Liberation Serif","fontSize":13.4,"color":"#111111","align":"left","baseline":"middle"},"encoding":{"text":{"field":"text"},"x":{"datum":"note","type":"nominal","scale":{"range":[30,30]}},"y":{"field":"line","type":"ordinal","scale":{"range":[5,92]}}}}
 ],"spacing":0,"bounds":"flush"}
]
}
